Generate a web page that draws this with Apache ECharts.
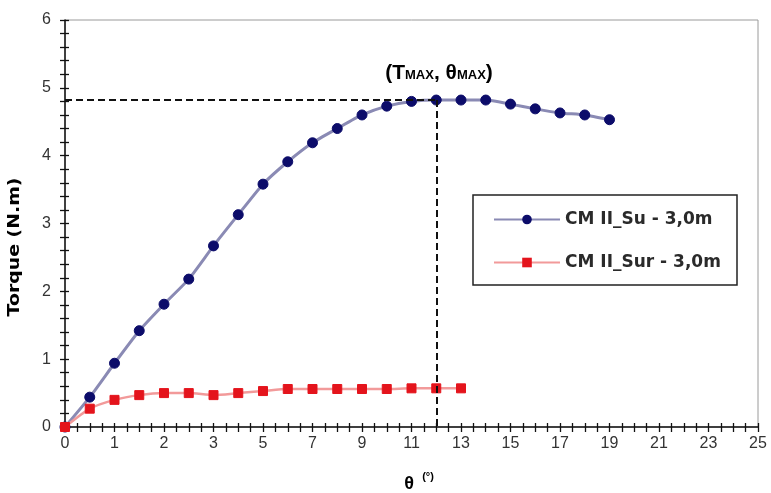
<!DOCTYPE html>
<html>
<head>
<meta charset="utf-8">
<script src="https://cdn.jsdelivr.net/npm/echarts@6/dist/echarts.min.js"></script>
<style>
html,body{margin:0;padding:0;background:#fff;}
#chart{width:771px;height:493px;}
</style>
</head>
<body>
<div id="chart"></div>
<script>
// categories of theta (°)
var thetaCategories = ['0','0.5','1','1.5','2','2.5','3','4','5','6','7','8','9','10','11','12','13','14','15','16','17','18','19','20','21','22','23','24','25'];
// Torque (N.m) series
var suName = 'CM II_Su - 3,0m';
var suValues = [0, 0.44, 0.94, 1.42, 1.81, 2.18, 2.67, 3.13, 3.58, 3.91, 4.19, 4.40, 4.60, 4.73, 4.80, 4.82, 4.82, 4.82, 4.76, 4.69, 4.63, 4.60, 4.53];
var surName = 'CM II_Sur - 3,0m';
var surValues = [0, 0.27, 0.40, 0.47, 0.50, 0.50, 0.47, 0.50, 0.53, 0.56, 0.56, 0.56, 0.56, 0.56, 0.57, 0.57, 0.57];
// maximum point annotation
var tMax = 4.82;
var thetaMax = '12';
var yTicks = [0, 1, 2, 3, 4, 5, 6];

var chart = echarts.init(document.getElementById('chart'), null, {renderer: 'canvas'});
var FONT = 'Liberation Sans, Arial, sans-serif';
var WIDE = 'DejaVu Sans, sans-serif';
var halfSteps = (thetaCategories.length - 1) * 2;

var option = {
  backgroundColor: '#ffffff',
  animation: false,
  grid: {left: 65, right: 13, top: 20, bottom: 66, show: true, borderColor: '#9a9a9a', borderWidth: 1},
  legend: {
    orient: 'vertical',
    left: 473, top: 195,
    padding: [16, 12, 14, 20],
    itemGap: 26,
    itemWidth: 66, itemHeight: 12,
    borderColor: '#222', borderWidth: 1.5,
    backgroundColor: '#fff',
    textStyle: {fontFamily: WIDE, fontSize: 17, fontWeight: 'bold', color: '#2a2a2a', lineHeight: 16, width: 160},
    data: [suName, surName]
  },
  xAxis: [
    {
      type: 'category', data: thetaCategories, boundaryGap: false,
      axisLine: {lineStyle: {color: '#111', width: 1.5}},
      axisTick: {show: false},
      axisLabel: {interval: 1, margin: 9, fontFamily: FONT, fontSize: 16, color: '#333'},
      splitLine: {show: false}
    },
    {
      type: 'value', min: 0, max: halfSteps, interval: 1, position: 'bottom',
      axisLine: {show: false}, axisLabel: {show: false}, splitLine: {show: false},
      axisTick: {show: true, length: 5, lineStyle: {color: '#111', width: 1.3}}
    },
    {
      type: 'value', min: 0, max: halfSteps, interval: 1, position: 'bottom',
      axisLine: {show: false}, axisLabel: {show: false}, splitLine: {show: false},
      axisTick: {show: true, inside: true, length: 4, lineStyle: {color: '#111', width: 1.3}}
    }
  ],
  yAxis: [
    {
      type: 'value', min: yTicks[0], max: yTicks[yTicks.length - 1], interval: 1, position: 'left',
      axisLine: {show: true, lineStyle: {color: '#111', width: 1.5}},
      axisTick: {show: true, length: 5, lineStyle: {color: '#111', width: 1.3}},
      minorTick: {show: true, splitNumber: 5, length: 5, lineStyle: {color: '#111', width: 1.3}},
      axisLabel: {margin: 14, fontFamily: FONT, fontSize: 16, color: '#333'},
      splitLine: {show: false}
    },
    {
      type: 'value', min: yTicks[0], max: yTicks[yTicks.length - 1], interval: 1, position: 'left',
      axisLine: {show: false},
      axisTick: {show: true, inside: true, length: 4, lineStyle: {color: '#111', width: 1.3}},
      minorTick: {show: true, splitNumber: 5, length: 4, lineStyle: {color: '#111', width: 1.3}},
      axisLabel: {show: false},
      splitLine: {show: false}
    }
  ],
  series: [
    {
      name: suName, type: 'line', data: suValues, smooth: 0.2,
      symbol: 'circle', symbolSize: 10,
      lineStyle: {color: '#8a8ab4', width: 3},
      itemStyle: {color: '#0c0c6a', borderColor: '#0c0c6a'},
      z: 3,
      markLine: {
        silent: true, symbol: 'none',
        lineStyle: {color: '#111', type: [7, 4], width: 2},
        label: {show: false},
        data: [
          [{coord: [thetaCategories[0], tMax]}, {coord: [thetaMax, tMax]}],
          [{coord: [thetaMax, tMax]}, {coord: [thetaMax, 0]}]
        ]
      }
    },
    {
      name: surName, type: 'line', data: surValues, smooth: 0.2,
      symbol: 'rect', symbolSize: 9,
      lineStyle: {color: '#f29a9a', width: 2.5},
      itemStyle: {color: '#e4141c', borderColor: '#e4141c'},
      z: 4
    }
  ],
  graphic: [
    {
      type: 'text', x: 439, y: 73,
      style: {
        text: '{b|(T}{s|MAX}{b|, θ}{s|MAX}{b|)}',
        textAlign: 'center', textVerticalAlign: 'middle',
        rich: {
          b: {fontFamily: FONT, fontSize: 21, fontWeight: 'bold', color: '#222', verticalAlign: 'bottom'},
          s: {fontFamily: FONT, fontSize: 13, fontWeight: 'bold', color: '#222', verticalAlign: 'bottom', padding: [0, 0, 2, 0]}
        }
      }
    },
    {
      type: 'text', x: 409, y: 484,
      style: {
        text: 'θ', textAlign: 'center', textVerticalAlign: 'middle',
        fontFamily: FONT, fontSize: 18, fontWeight: 'bold', color: '#222'
      }
    },
    {
      type: 'text', x: 428, y: 477,
      style: {
        text: '(°)', textAlign: 'center', textVerticalAlign: 'middle',
        fontFamily: FONT, fontSize: 11, fontWeight: 'bold', color: '#222'
      }
    },
    {
      type: 'text', x: 15, y: 247, rotation: Math.PI / 2, scaleX: 1.18,
      style: {
        text: 'Torque (N.m)', textAlign: 'center', textVerticalAlign: 'middle',
        fontFamily: WIDE, fontSize: 16, fontWeight: 'bold', color: '#222'
      }
    }
  ]
};
chart.setOption(option);
</script>
</body>
</html>
